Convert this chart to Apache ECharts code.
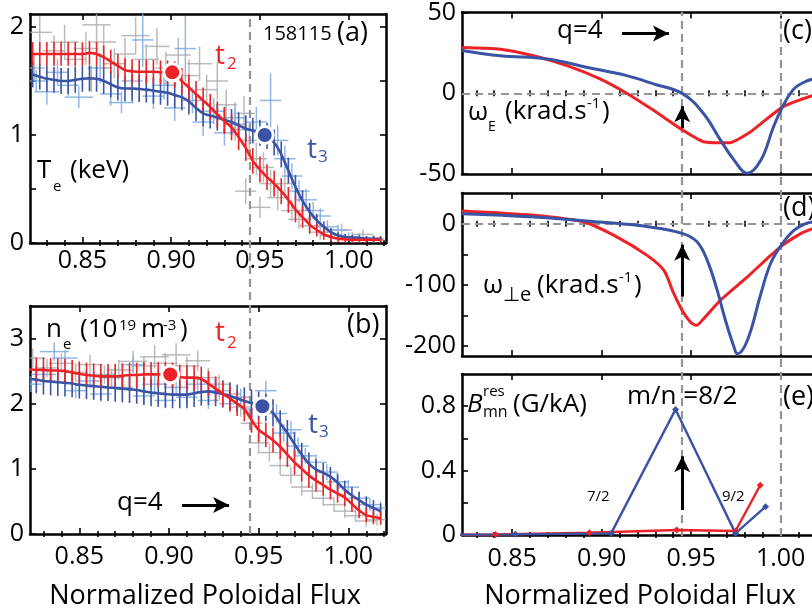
<!DOCTYPE html>
<html>
<head>
<meta charset="utf-8">
<script src="https://cdn.jsdelivr.net/npm/echarts@6/dist/echarts.min.js"></script>
<style>
  html, body { margin: 0; padding: 0; background: #fff; overflow: hidden; }
  #chart { width: 830px; height: 611px; }
</style>
</head>
<body>
<div id="chart"></div>
<script>
// ---------- profile data (normalized poloidal flux) ----------
const profileX = [0.822,0.826,0.830,0.834,0.838,0.842,0.846,0.850,0.854,0.858,
                  0.862,0.866,0.870,0.874,0.878,0.882,0.886,0.890,0.894,0.898,
                  0.902,0.906,0.910,0.914,0.918,0.922,0.926,0.930,0.934,0.938,
                  0.942,0.946,0.950,0.954,0.958,0.962,0.966,0.970,0.974,0.978,
                  0.982,0.986,0.990,0.994,0.998,1.002,1.006,1.010,1.014,1.018];

// Te (keV)
const teT2 = [1.75,1.75,1.75,1.75,1.75,1.75,1.75,1.75,1.76,1.75,
              1.72,1.68,1.64,1.60,1.59,1.585,1.585,1.585,1.58,1.58,
              1.56,1.50,1.44,1.38,1.32,1.26,1.19,1.13,1.07,0.98,
              0.88,0.76,0.68,0.61,0.55,0.48,0.40,0.31,0.24,0.17,
              0.12,0.08,0.055,0.04,0.035,0.03,0.03,0.03,0.03,0.03];
const teT2Err = [0.11,0.11,0.11,0.11,0.11,0.11,0.11,0.11,0.11,0.11,
                 0.11,0.11,0.11,0.11,0.11,0.11,0.11,0.11,0.11,0.11,
                 0.12,0.12,0.12,0.12,0.12,0.12,0.12,0.12,0.12,0.12,
                 0.12,0.12,0.12,0.12,0.12,0.12,0.12,0.12,0.10,0.08,
                 0.06,0.05,0.04,0.03,0.03,0.025,0.025,0.025,0.025,0.025];
const teT3 = [1.56,1.54,1.52,1.51,1.50,1.50,1.51,1.52,1.525,1.52,
              1.50,1.47,1.44,1.43,1.43,1.425,1.42,1.41,1.40,1.39,
              1.37,1.35,1.31,1.25,1.20,1.18,1.16,1.14,1.12,1.09,
              1.06,1.04,1.02,0.99,0.93,0.82,0.67,0.52,0.39,0.29,
              0.21,0.15,0.10,0.07,0.055,0.05,0.045,0.04,0.04,0.04];
const teT3Err = [0.12,0.12,0.12,0.12,0.12,0.12,0.12,0.12,0.12,0.12,
                 0.12,0.12,0.12,0.12,0.12,0.12,0.12,0.12,0.12,0.12,
                 0.12,0.12,0.12,0.12,0.12,0.12,0.12,0.12,0.12,0.12,
                 0.12,0.12,0.12,0.12,0.12,0.12,0.12,0.11,0.10,0.08,
                 0.06,0.05,0.04,0.03,0.03,0.025,0.025,0.025,0.025,0.025];

// ne (1e19 m^-3)
const neT2 = [2.53,2.52,2.52,2.51,2.51,2.50,2.48,2.46,2.44,2.43,
              2.42,2.42,2.42,2.43,2.44,2.44,2.45,2.45,2.45,2.45,
              2.44,2.41,2.40,2.40,2.38,2.31,2.23,2.15,2.08,2.00,
              1.92,1.75,1.60,1.52,1.44,1.34,1.22,1.10,1.00,0.90,
              0.82,0.75,0.68,0.62,0.56,0.46,0.36,0.29,0.26,0.24];
const neT2Err = [0.19,0.19,0.19,0.19,0.19,0.19,0.19,0.19,0.19,0.19,
                 0.19,0.19,0.19,0.19,0.19,0.19,0.19,0.19,0.19,0.19,
                 0.19,0.19,0.19,0.19,0.19,0.19,0.19,0.19,0.19,0.19,
                 0.19,0.19,0.19,0.19,0.19,0.19,0.19,0.19,0.19,0.19,
                 0.17,0.16,0.15,0.14,0.13,0.12,0.12,0.11,0.11,0.10];
const neT3 = [2.38,2.37,2.35,2.34,2.33,2.32,2.31,2.29,2.28,2.27,
              2.26,2.25,2.24,2.23,2.22,2.21,2.19,2.17,2.16,2.15,
              2.14,2.14,2.14,2.16,2.18,2.19,2.17,2.15,2.12,2.08,
              2.04,2.01,1.98,1.94,1.86,1.70,1.55,1.38,1.22,1.08,
              0.99,0.94,0.88,0.79,0.68,0.59,0.52,0.45,0.40,0.35];
const neT3Err = [0.21,0.21,0.21,0.21,0.21,0.21,0.21,0.21,0.21,0.21,
                 0.21,0.21,0.21,0.21,0.21,0.21,0.21,0.21,0.21,0.21,
                 0.21,0.21,0.21,0.21,0.21,0.21,0.21,0.21,0.21,0.21,
                 0.21,0.21,0.21,0.21,0.21,0.20,0.20,0.19,0.18,0.17,
                 0.16,0.15,0.15,0.14,0.14,0.13,0.13,0.13,0.12,0.12];

// Highlighted profile points [flux, value]
const teDotT2 = [0.9006, 1.58];
const teDotT3 = [0.9527, 1.00];
const neDotT2 = [0.9007, 2.45];
const neDotT3 = [0.9521, 1.96];

// Raw Thomson measurements: [flux, value, flux error, value error]
const teRawT2 = [[0.823,1.62,0.006,0.12],[0.826,1.95,0.007,0.15],[0.834,1.78,0.006,0.14],[0.840,1.86,0.008,0.16],
  [0.846,1.70,0.006,0.12],[0.852,1.80,0.007,0.15],[0.858,2.02,0.008,0.18],[0.862,1.86,0.007,0.16],
  [0.868,1.66,0.006,0.14],[0.874,1.75,0.006,0.15],[0.880,1.92,0.008,0.17],[0.886,1.70,0.007,0.14],
  [0.892,1.82,0.007,0.17],[0.897,1.62,0.006,0.15],[0.904,1.74,0.007,0.16],[0.910,1.55,0.006,0.15],
  [0.916,1.66,0.007,0.16],[0.920,1.42,0.006,0.14],[0.926,1.50,0.006,0.18],[0.931,1.28,0.006,0.14],
  [0.936,1.10,0.006,0.15],[0.941,1.20,0.006,0.16],[0.944,0.95,0.006,0.14],[0.948,0.78,0.006,0.15],
  [0.952,0.70,0.006,0.14],[0.956,0.55,0.006,0.13],[0.960,0.42,0.006,0.12],[0.964,0.55,0.006,0.12],
  [0.950,0.33,0.006,0.10],[0.942,0.48,0.006,0.12],[0.968,0.30,0.006,0.10],[0.972,0.22,0.006,0.09],
  [0.978,0.16,0.006,0.08],[0.984,0.10,0.006,0.07],[0.990,0.07,0.006,0.05],[0.996,0.12,0.006,0.06],
  [1.002,0.05,0.006,0.05],[1.008,0.08,0.006,0.05],[1.014,0.03,0.006,0.04]];
const teRawT3 = [[0.824,1.50,0.006,0.10],[0.830,1.40,0.007,0.12],[0.836,1.58,0.006,0.12],[0.842,1.46,0.006,0.10],
  [0.848,1.35,0.008,0.10],[0.855,1.52,0.006,0.12],[0.860,1.62,0.007,0.14],[0.866,1.38,0.006,0.11],
  [0.872,1.30,0.007,0.10],[0.878,1.50,0.006,0.13],[0.884,1.88,0.006,0.25],[0.890,1.36,0.006,0.12],
  [0.896,1.46,0.007,0.13],[0.902,1.25,0.006,0.12],[0.908,1.80,0.006,0.30],[0.912,1.32,0.006,0.12],
  [0.918,1.12,0.006,0.13],[0.924,1.22,0.006,0.12],[0.930,1.02,0.006,0.12],[0.936,1.16,0.006,0.14],
  [0.942,1.05,0.006,0.13],[0.948,1.12,0.006,0.14],[0.956,1.32,0.006,0.25],[0.960,0.95,0.006,0.14],
  [0.964,0.78,0.006,0.12],[0.968,0.62,0.006,0.12],[0.972,0.48,0.006,0.10],[0.976,0.40,0.006,0.10],
  [0.980,0.30,0.006,0.08],[0.984,0.25,0.006,0.07],[0.988,0.15,0.006,0.06],[0.994,0.12,0.006,0.05],
  [1.000,0.06,0.006,0.04],[1.006,0.05,0.006,0.04],[1.014,0.04,0.006,0.03]];
const neRawT2 = [[0.824,2.70,0.007,0.15],[0.832,2.55,0.006,0.14],[0.840,2.62,0.007,0.15],[0.848,2.48,0.006,0.14],
  [0.856,2.60,0.007,0.15],[0.864,2.45,0.006,0.14],[0.872,2.52,0.007,0.15],[0.880,2.65,0.008,0.16],
  [0.886,2.58,0.007,0.15],[0.892,2.72,0.008,0.18],[0.898,2.62,0.007,0.16],[0.904,2.75,0.008,0.18],
  [0.910,2.58,0.007,0.15],[0.916,2.66,0.007,0.16],[0.922,2.40,0.006,0.15],[0.928,2.30,0.006,0.15],
  [0.934,2.15,0.006,0.15],[0.940,1.95,0.006,0.15],[0.946,1.70,0.006,0.15],[0.950,1.40,0.006,0.14],
  [0.956,1.25,0.007,0.14],[0.962,1.05,0.006,0.14],[0.968,0.90,0.006,0.13],[0.974,0.72,0.006,0.13],
  [0.980,0.66,0.006,0.12],[0.986,0.55,0.006,0.12],[0.992,0.45,0.006,0.11],[0.998,0.35,0.006,0.10],
  [1.004,0.28,0.006,0.10],[1.010,0.20,0.006,0.09],[1.016,0.22,0.006,0.09]];
const neRawT3 = [[0.823,2.30,0.006,0.12],[0.830,2.45,0.007,0.12],[0.836,2.80,0.008,0.14],[0.842,2.70,0.007,0.12],
  [0.848,2.20,0.006,0.12],[0.856,2.35,0.007,0.12],[0.862,2.15,0.006,0.12],[0.868,2.40,0.007,0.13],
  [0.874,2.25,0.006,0.12],[0.880,2.60,0.007,0.13],[0.886,2.12,0.006,0.12],[0.892,2.30,0.007,0.13],
  [0.898,2.05,0.006,0.12],[0.904,2.25,0.007,0.13],[0.910,2.10,0.006,0.12],[0.916,2.30,0.007,0.13],
  [0.922,2.05,0.006,0.13],[0.928,2.20,0.006,0.13],[0.934,2.00,0.006,0.13],[0.940,2.10,0.006,0.13],
  [0.946,1.92,0.006,0.13],[0.954,2.20,0.006,0.15],[0.960,1.85,0.006,0.14],[0.964,1.55,0.006,0.13],
  [0.968,1.60,0.006,0.13],[0.972,1.35,0.006,0.13],[0.976,1.20,0.006,0.12],[0.982,1.10,0.006,0.12],
  [0.988,0.95,0.006,0.12],[0.994,0.80,0.006,0.11],[1.000,0.72,0.006,0.11],[1.006,0.55,0.006,0.10],
  [1.012,0.45,0.006,0.10],[1.018,0.40,0.006,0.10]];

// E x B rotation (krad/s)
const omegaEX_t2 = [0.822,0.8435,0.862,0.881,0.8994,0.914,0.929,0.944,0.957,0.971,0.983,0.9925,1.001,1.0074,1.018,1.022];
const omegaE_t2  = [28.3,27.3,23.2,17,8.8,0,-10.6,-21.9,-30,-30.7,-24,-15.7,-8.6,-5.5,-1.4,-0.5];
const omegaEX_t3 = [0.822,0.8435,0.8696,0.892,0.914,0.929,0.9454,0.957,0.9664,0.974,0.9814,0.989,0.996,1.001,1.0074,1.0131,1.018,1.022];
const omegaE_t3  = [26.5,23.2,21.2,16,10.9,5.8,-0.4,-12.7,-29,-41.4,-49.6,-41.4,-20.9,-8.6,2.7,6.8,8.8,9.5];

// perpendicular electron rotation (krad/s)
const omegaPX_t2 = [0.822,0.862,0.89,0.9087,0.9254,0.9348,0.9403,0.945,0.9497,0.953,0.957,0.9664,0.9814,0.9925,1.001,1.0112,1.018,1.022];
const omegaP_t2  = [20.6,13.6,2.6,-21.9,-51.8,-76.3,-114,-141.7,-160.8,-166,-155,-125,-87,-57,-35.5,-16.3,-8.2,-5];
const omegaPX_t3 = [0.822,0.862,0.899,0.927,0.9454,0.9534,0.959,0.9646,0.9692,0.974,0.9758,0.9814,0.989,0.9944,1.001,1.0074,1.014,1.018,1.022];
const omegaP_t3  = [16.3,10.9,2.6,-5.5,-16.3,-30,-60,-109,-158,-201.6,-212.4,-190.7,-114,-65,-32.7,-11,0,2.6,3];

// resonant field at rational surfaces (G/kA)
const bresX_t2 = [0.7884,0.8407,0.8932,0.9419,0.9748,0.9886];
const bres_t2  = [0,0.003,0.014,0.031,0.025,0.309];
const bresX_t3 = [0.7884,0.8518,0.9053,0.9413,0.9748,0.9916];
const bres_t3  = [0,0.004,0.01,0.78,0.01,0.176];

// q = 4 surface and separatrix
const q4Flux = 0.945;
const q4FluxEdge = 0.944;
const sepFlux = 1.0;

// arrow annotations [[from], [to]]
const arrowNe = [[0.9073,0.445],[0.9335,0.445]];
const arrowWEq = [[0.9114,37],[0.9376,37]];
const arrowWE = [[0.945,-21.6],[0.945,-8.0]];
const arrowWP = [[0.945,-119],[0.945,-34.4]];
const arrowB  = [[0.945,0.155],[0.945,0.489]];

// axis ticks
const majorX = [0.85,0.90,0.95,1.00];
const minorX = [0.83,0.84,0.86,0.87,0.88,0.89,0.91,0.92,0.93,0.94,0.96,0.97,0.98,0.99,1.01,1.02];
const teTicks = [0,0.5,1,1.5,2], teLabels = [0,1,2];
const neTicks = [0,1,2,3], neLabels = [0,1,2,3];
const weTicks = [-50,0,50], weLabels = [-50,0,50];
const wpTicks = [-200,-150,-100,-50,0], wpLabels = [-200,-100,0];
const bTicks = [0,0.2,0.4,0.6,0.8], bLabels = [0,0.4,0.8];

// ---------- styling ----------
const FONT = 'Open Sans';
const RED = '#EC2227';
const BLUE = '#3A53A4';
const RAW_GRAY = 'rgba(170,170,170,0.8)';
const RAW_BLUE = 'rgba(125,172,225,0.85)';
const DASH = { color: '#959595', width: 2.2, type: [8, 5] };

const grids = [
  { left: 30,  top: 14,  width: 356, height: 229 },   // (a)
  { left: 30,  top: 306, width: 356, height: 228 },   // (b)
  { left: 462, top: 12,  width: 358, height: 162 },   // (c)
  { left: 462, top: 193, width: 358, height: 163 },   // (d)
  { left: 462, top: 374, width: 358, height: 161 },   // (e)
  { left: 30,  top: 14,  width: 356, height: 520 },   // q=4 line across (a),(b)
  { left: 462, top: 12,  width: 358, height: 524 }    // guide lines across (c)-(e)
];

const xAxis = [], yAxis = [], series = [];
const axisLine = { show: true, onZero: false, lineStyle: { color: '#000', width: 2.5 } };
const tickStyle = { color: '#000', width: 1.6 };

function panelAxes(g, xr, yr, yTicks, yLabels, yFmt, showX, xMargin) {
  const xb = { gridIndex: g, type: 'value', min: xr[0], max: xr[1], splitLine: { show: false } };
  const xi = xAxis.length;
  xAxis.push(Object.assign({}, xb, { position: 'bottom', axisLine,
    axisTick: { show: true, inside: true, length: 6, customValues: majorX, lineStyle: tickStyle },
    axisLabel: { show: showX, customValues: majorX, formatter: v => v.toFixed(2), margin: xMargin,
                 fontSize: 25, fontFamily: FONT, color: '#000' } }));
  xAxis.push(Object.assign({}, xb, { position: 'bottom', axisLine: { show: false },
    axisTick: { show: true, inside: true, length: 3, customValues: minorX, lineStyle: tickStyle },
    axisLabel: { show: false } }));
  xAxis.push(Object.assign({}, xb, { position: 'top', axisLine,
    axisTick: { show: true, inside: true, length: 6, customValues: majorX, lineStyle: tickStyle },
    axisLabel: { show: false } }));
  xAxis.push(Object.assign({}, xb, { position: 'top', axisLine: { show: false },
    axisTick: { show: true, inside: true, length: 3, customValues: minorX, lineStyle: tickStyle },
    axisLabel: { show: false } }));
  const yb = { gridIndex: g, type: 'value', min: yr[0], max: yr[1], splitLine: { show: false } };
  const yi = yAxis.length;
  yAxis.push(Object.assign({}, yb, { position: 'left', axisLine,
    axisTick: { show: true, inside: true, length: 6, customValues: yTicks, lineStyle: tickStyle },
    axisLabel: { show: true, customValues: yLabels, formatter: yFmt, margin: 6,
                 fontSize: 25, fontFamily: FONT, color: '#000' } }));
  yAxis.push(Object.assign({}, yb, { position: 'right', axisLine,
    axisTick: { show: true, inside: true, length: 6, customValues: yTicks, lineStyle: tickStyle },
    axisLabel: { show: false } }));
  return { x: xi, y: yi };
}

const fmtPlain = v => String(v);
const axA = panelAxes(0, [0.8205, 1.021], [0, 2.12], teTicks, teLabels, fmtPlain, true, 5);
const axB = panelAxes(1, [0.8225, 1.021], [0, 3.5], neTicks, neLabels, fmtPlain, true, 10);
const axC = panelAxes(2, [0.822, 1.022], [-50, 50], weTicks, weLabels, fmtPlain, false, 8);
const axD = panelAxes(3, [0.822, 1.022], [-216, 50], wpTicks, wpLabels, fmtPlain, false, 8);
const axE = panelAxes(4, [0.822, 1.022], [0, 1.0], bTicks, bLabels, fmtPlain, true, 11);

function overlayAxes(g, xr) {
  const xi = xAxis.length, yi = yAxis.length;
  xAxis.push({ gridIndex: g, type: 'value', min: xr[0], max: xr[1], show: false });
  yAxis.push({ gridIndex: g, type: 'value', min: 0, max: 1, show: false });
  return { x: xi, y: yi };
}
const axL = overlayAxes(5, [0.8205, 1.021]);
const axR = overlayAxes(6, [0.822, 1.022]);

// ---------- series builders ----------
function rawCrosses(ax, data, color) {
  return {
    type: 'custom', xAxisIndex: ax.x, yAxisIndex: ax.y, data, clip: true, z: 1, silent: true,
    encode: { x: 0, y: 1 },
    renderItem: (p, api) => {
      const x = api.value(0), y = api.value(1), dx = api.value(2), dy = api.value(3);
      const h1 = api.coord([x - dx, y]), h2 = api.coord([x + dx, y]);
      const v1 = api.coord([x, y - dy]), v2 = api.coord([x, y + dy]);
      const st = { stroke: color, lineWidth: 1.5 };
      return { type: 'group', children: [
        { type: 'line', shape: { x1: h1[0], y1: h1[1], x2: h2[0], y2: h2[1] }, style: st },
        { type: 'line', shape: { x1: v1[0], y1: v1[1], x2: v2[0], y2: v2[1] }, style: st }
      ] };
    }
  };
}
function errorBars(ax, xs, ys, es, color) {
  return {
    type: 'custom', xAxisIndex: ax.x, yAxisIndex: ax.y, clip: true, z: 2, silent: true,
    data: xs.map((x, i) => [x, ys[i], es[i]]), encode: { x: 0, y: 1 },
    renderItem: (p, api) => {
      const x = api.value(0), y = api.value(1), e = api.value(2);
      const a = api.coord([x, y - e]), b = api.coord([x, y + e]);
      return { type: 'line', shape: { x1: a[0], y1: a[1], x2: b[0], y2: b[1] },
               style: { stroke: color, lineWidth: 1.6 } };
    }
  };
}
function curve(ax, xs, ys, color, smooth, width) {
  return { type: 'line', xAxisIndex: ax.x, yAxisIndex: ax.y, data: xs.map((x, i) => [x, ys[i]]),
           showSymbol: false, smooth, clip: true, z: 3, silent: true,
           lineStyle: { color, width: width || 2.6 } };
}
function dot(ax, pt, color) {
  return { type: 'scatter', xAxisIndex: ax.x, yAxisIndex: ax.y, data: [pt], symbolSize: 17, z: 4,
           itemStyle: { color, opacity: 1, borderColor: '#fff', borderWidth: 3 }, silent: true };
}
function arrow(ax, seg) {
  return { type: 'line', xAxisIndex: ax.x, yAxisIndex: ax.y, data: [], silent: true, z: 8,
    markLine: { silent: true, z: 20, symbol: ['none', 'arrow'], symbolSize: [12, 16], animation: false,
      precision: 4, lineStyle: { color: '#000', width: 3, type: 'solid' }, label: { show: false },
      data: [[{ coord: seg[0] }, { coord: seg[1] }]] } };
}
function guide(ax, mark) {
  return { type: 'line', xAxisIndex: ax.x, yAxisIndex: ax.y, data: [], silent: true, z: 2,
    markLine: { silent: true, z: 2, symbol: ['none', 'none'], animation: false, precision: 4,
      lineStyle: DASH, label: { show: false }, data: mark } };
}

// vertical guide lines (drawn first, beneath the data)
series.push(guide(axL, [{ xAxis: q4FluxEdge }]));
series.push(guide(axR, [{ xAxis: q4Flux }, { xAxis: sepFlux }]));
// (a) electron temperature
series.push(rawCrosses(axA, teRawT2, RAW_GRAY), rawCrosses(axA, teRawT3, RAW_BLUE));
series.push(errorBars(axA, profileX, teT3, teT3Err, BLUE), errorBars(axA, profileX, teT2, teT2Err, RED));
series.push(curve(axA, profileX, teT3, BLUE, 0.3), curve(axA, profileX, teT2, RED, 0.3));
series.push(dot(axA, teDotT2, RED), dot(axA, teDotT3, BLUE));
// (b) electron density
series.push(rawCrosses(axB, neRawT2, RAW_GRAY), rawCrosses(axB, neRawT3, RAW_BLUE));
series.push(errorBars(axB, profileX, neT3, neT3Err, BLUE), errorBars(axB, profileX, neT2, neT2Err, RED));
series.push(curve(axB, profileX, neT3, BLUE, 0.3), curve(axB, profileX, neT2, RED, 0.3));
series.push(dot(axB, neDotT2, RED), dot(axB, neDotT3, BLUE));
series.push(arrow(axB, arrowNe));
// (c) omega_E
series.push(guide(axC, [{ yAxis: 0 }]));
series.push(curve(axC, omegaEX_t2, omegaE_t2, RED, 0.2, 3), curve(axC, omegaEX_t3, omegaE_t3, BLUE, 0.4, 3));
series.push(arrow(axC, arrowWEq), arrow(axC, arrowWE));
// (d) omega_perp,e
series.push(guide(axD, [{ yAxis: 0 }]));
series.push(curve(axD, omegaPX_t2, omegaP_t2, RED, 0.25, 3), curve(axD, omegaPX_t3, omegaP_t3, BLUE, 0.4, 3));
series.push(arrow(axD, arrowWP));
// (e) resonant field
series.push({ type: 'line', xAxisIndex: axE.x, yAxisIndex: axE.y, data: bresX_t2.map((x, i) => [x, bres_t2[i]]),
  symbol: 'diamond', symbolSize: 7, showSymbol: true, clip: true, z: 3, silent: true,
  lineStyle: { color: RED, width: 2.4 }, itemStyle: { color: RED } });
series.push({ type: 'line', xAxisIndex: axE.x, yAxisIndex: axE.y, data: bresX_t3.map((x, i) => [x, bres_t3[i]]),
  symbol: 'diamond', symbolSize: 7, showSymbol: true, clip: true, z: 3, silent: true,
  lineStyle: { color: BLUE, width: 2.4 }, itemStyle: { color: BLUE } });
series.push(arrow(axE, arrowB));

// ---------- text annotations ----------
function txt(text, x, y, size, opts) {
  return Object.assign({ type: 'text', x, y, silent: true, z: 100,
    style: Object.assign({ text, fill: '#000', font: size + 'px "' + FONT + '"',
      align: 'left', verticalAlign: 'middle' }, (opts && opts.style) || {}) },
    opts && opts.el || {});
}
const graphic = [
  // (a)
  txt('158115', 263, 34, 20), txt('(a)', 337, 33, 27),
  txt('t', 215, 56, 28, { style: { fill: RED } }), txt('2', 227, 64, 17, { style: { fill: RED } }),
  txt('t', 307, 150, 28, { style: { fill: BLUE } }), txt('3', 318, 157, 17, { style: { fill: BLUE } }),
  txt('T', 37, 171, 26), txt('e', 53, 187, 15), txt('(keV)', 70, 171, 26),
  // (b)
  txt('n', 46, 330, 26), txt('e', 63, 345, 15), txt('(10', 80, 330, 26), txt('19', 119, 326, 15),
  txt('m', 141, 330, 26), txt('-3', 163, 326, 15), txt(')', 180, 330, 26),
  txt('t', 215, 333, 28, { style: { fill: RED } }), txt('2', 227, 343, 17, { style: { fill: RED } }),
  txt('t', 308, 425, 28, { style: { fill: BLUE } }), txt('3', 319, 432, 17, { style: { fill: BLUE } }),
  txt('(b)', 347, 325, 27), txt('q=4', 117, 503, 26),
  // (c)
  txt('q=4', 557, 31, 26), txt('(c)', 783, 31, 27),
  txt('\u03c9', 468, 113, 26), txt('E', 488, 127, 14), txt('(krad.s', 505, 112, 26),
  txt('-1', 587, 104, 15), txt(')', 602, 112, 26),
  // (d)
  txt('(d)', 783, 208, 27),
  txt('\u03c9', 483, 286, 26), txt('\u22a5e', 503, 295, 20), txt('(krad.s', 537, 286, 26),
  txt('-1', 619, 278, 15), txt(')', 634, 286, 26),
  // (e)
  txt('B', 467, 405, 26, { style: { font: 'italic 26px "' + FONT + '"' } }),
  txt('res', 483, 392, 15), txt('mn', 483, 412, 16), txt('(G/kA)', 513, 405, 26),
  txt('m/n =8/2', 627, 397, 26), txt('(e)', 783, 397, 27),
  txt('7/2', 587, 497, 15), txt('9/2', 722, 497, 15),
  // axis titles
  txt('Normalized Poloidal Flux', 205, 596, 27, { style: { align: 'center' } }),
  txt('Normalized Poloidal Flux', 640, 596, 27, { style: { align: 'center' } })
];

const chart = echarts.init(document.getElementById('chart'), null, { renderer: 'canvas' });
chart.setOption({
  animation: false,
  backgroundColor: '#fff',
  grid: grids,
  xAxis, yAxis, series, graphic
});
</script>
</body>
</html>
